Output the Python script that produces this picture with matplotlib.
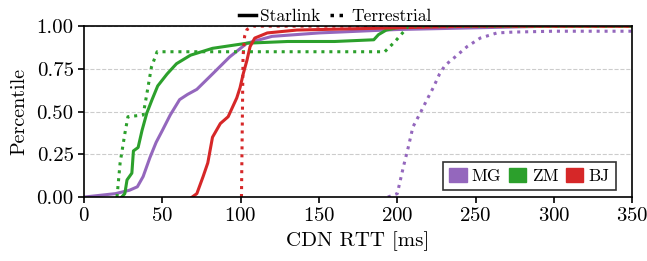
import matplotlib
matplotlib.use("Agg")
import matplotlib.pyplot as plt
from matplotlib.lines import Line2D
from matplotlib.patches import Patch

plt.rcParams['font.family'] = ['cmr10', 'DejaVu Serif']
plt.rcParams['mathtext.fontset'] = 'cm'
plt.rcParams['axes.formatter.use_mathtext'] = True

# Starlink (solid) CDN RTT CDFs
mg_sl_x = [0, 10, 20, 29, 34, 37.7, 42, 46, 50, 55, 61, 66, 72, 82, 93, 104, 120, 150, 200, 250, 300, 350]
mg_sl_y = [0, 0.01, 0.02, 0.04, 0.06, 0.12, 0.23, 0.32, 0.39, 0.48, 0.57, 0.60, 0.63, 0.72, 0.82, 0.90, 0.94, 0.96, 0.98, 0.99, 1.0, 1.0]

zm_sl_x = [24, 26, 27.4, 30.5, 31.5, 34.5, 37, 40, 43.4, 47, 53, 59, 68, 82, 104, 130, 160, 185, 188, 193, 200, 210, 350]
zm_sl_y = [0, 0.02, 0.10, 0.14, 0.27, 0.29, 0.39, 0.49, 0.57, 0.65, 0.72, 0.78, 0.83, 0.87, 0.90, 0.91, 0.91, 0.92, 0.95, 0.977, 0.99, 1.0, 1.0]

bj_sl_x = [69, 72, 76, 79, 82, 87, 92, 95, 97.5, 99.6, 101.6, 104, 106, 109, 117, 136, 200, 250, 350]
bj_sl_y = [0, 0.02, 0.12, 0.20, 0.35, 0.43, 0.47, 0.53, 0.58, 0.64, 0.72, 0.80, 0.88, 0.93, 0.96, 0.977, 0.99, 1.0, 1.0]

# Terrestrial (dotted) CDN RTT CDFs
mg_te_x = [194, 200, 202, 204, 207, 210, 214.6, 219, 223, 227, 230.5, 237, 244.6, 253, 263.7, 274, 300, 350]
mg_te_y = [0, 0.02, 0.10, 0.18, 0.29, 0.41, 0.49, 0.57, 0.64, 0.72, 0.77, 0.82, 0.88, 0.93, 0.96, 0.965, 0.97, 0.97]

zm_te_x = [21, 23, 26, 28, 37.7, 40, 43, 46.6, 100, 192, 198.6, 205, 207, 350]
zm_te_y = [0, 0.20, 0.37, 0.47, 0.48, 0.60, 0.76, 0.85, 0.85, 0.85, 0.91, 0.977, 1.0, 1.0]

bj_te_x = [100.5, 101, 101.5, 102.5, 104, 108, 350]
bj_te_y = [0, 0.40, 0.82, 0.94, 0.98, 1.0, 1.0]

colors = {'MG': '#9467bd', 'ZM': '#2ca02c', 'BJ': '#d62728'}
dot = (0, (1, 1.6))

fig, ax = plt.subplots(figsize=(6.47, 2.61), dpi=100)
fig.subplots_adjust(left=0.130, right=0.977, top=0.900, bottom=0.245)

ax.plot(mg_sl_x, mg_sl_y, '-', color=colors['MG'], lw=2.2)
ax.plot(zm_sl_x, zm_sl_y, '-', color=colors['ZM'], lw=2.2)
ax.plot(bj_sl_x, bj_sl_y, '-', color=colors['BJ'], lw=2.2)
ax.plot(mg_te_x, mg_te_y, linestyle=dot, color=colors['MG'], lw=2.2)
ax.plot(zm_te_x, zm_te_y, linestyle=dot, color=colors['ZM'], lw=2.2)
ax.plot(bj_te_x, bj_te_y, linestyle=dot, color=colors['BJ'], lw=2.2)

ax.set_xlim(0, 350)
ax.set_ylim(0, 1.0)
ax.set_xticks([0, 50, 100, 150, 200, 250, 300, 350])
ax.set_yticks([0, 0.25, 0.5, 0.75, 1.0])
ax.set_yticklabels(['0.00', '0.25', '0.50', '0.75', '1.00'])
ax.grid(axis='y', ls='--', color='#cccccc', lw=0.8)
ax.set_axisbelow(True)
ax.tick_params(labelsize=15, width=1.2, length=4)
for s in ax.spines.values():
    s.set_linewidth(1.2)

ax.set_xlabel('CDN RTT [ms]', fontsize=15)
ax.set_ylabel('Percentile', fontsize=14.5, labelpad=6)

style_handles = [Line2D([], [], color='black', lw=2.5, ls='-'),
                 Line2D([], [], color='black', lw=2.5, ls=dot)]
leg1 = fig.legend(style_handles, ['Starlink', 'Terrestrial'], ncol=2, frameon=False,
                  loc='upper center', bbox_to_anchor=(0.518, 1.005), fontsize=12.5,
                  handlelength=1.0, handletextpad=0.2, columnspacing=0.6, borderpad=0.1)

site_handles = [Patch(color=colors[k]) for k in ['MG', 'ZM', 'BJ']]
leg2 = ax.legend(site_handles, ['MG', 'ZM', 'BJ'], ncol=3, loc='lower right',
                 bbox_to_anchor=(0.97, 0.04), borderaxespad=0,
                 fontsize=12.5, fancybox=False, edgecolor='#333333', framealpha=1,
                 handlelength=1.0, handleheight=0.9, handletextpad=0.3, columnspacing=0.45,
                 borderpad=0.35)
leg2.get_frame().set_linewidth(1.2)

fig.savefig('out.png', dpi=100)
